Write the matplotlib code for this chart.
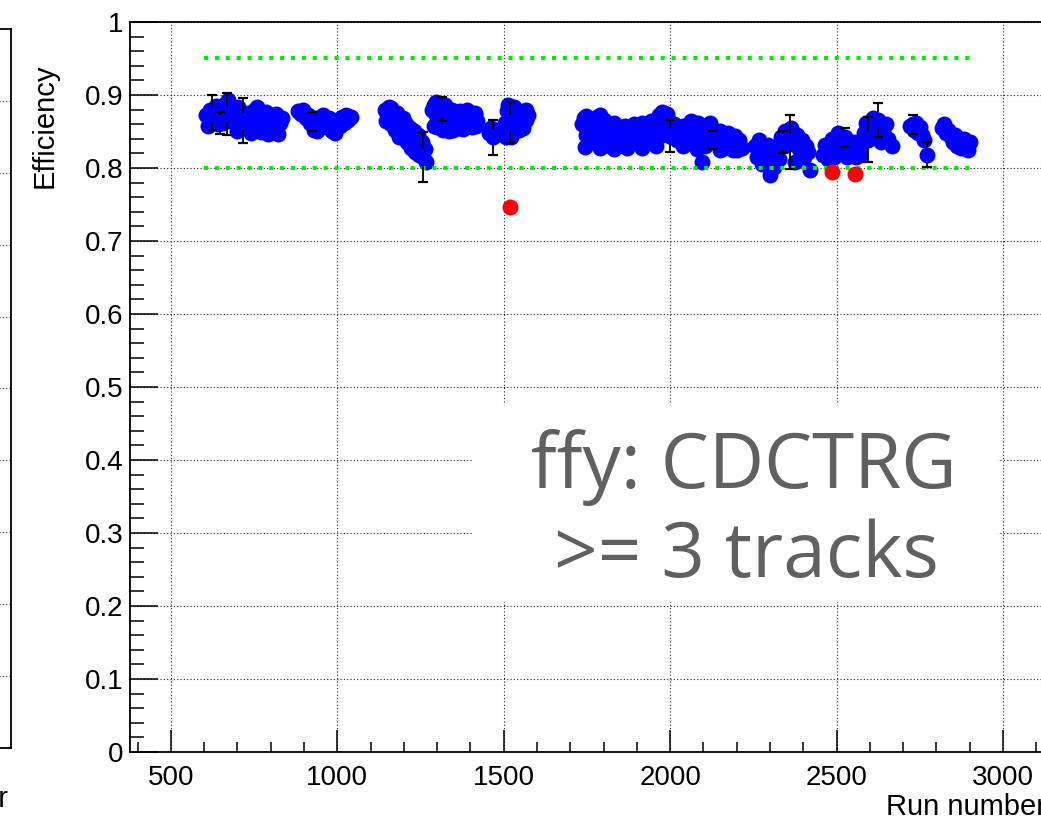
import numpy as np
import matplotlib
matplotlib.use("Agg")
import matplotlib.pyplot as plt
from matplotlib.patches import Rectangle

# ---------------- data ----------------
c1_runs = [605, 612, 618, 623, 628, 634, 640, 647, 652, 657, 663, 668, 672, 678, 684, 690, 697, 703,
           709, 716, 722, 728, 735, 741, 748, 754, 760, 766, 772, 778, 785, 791, 797, 803, 810, 816,
           822, 828, 834, 700, 742, 792, 620, 760]
c1_eff = [0.872, 0.858, 0.880, 0.876, 0.865, 0.885, 0.860, 0.862, 0.878, 0.862, 0.888, 0.874, 0.893,
          0.866, 0.880, 0.871, 0.859, 0.884, 0.868, 0.865, 0.876, 0.855, 0.870, 0.861, 0.878, 0.852,
          0.866, 0.872, 0.849, 0.858, 0.877, 0.865, 0.850, 0.868, 0.860, 0.874, 0.847, 0.862, 0.869,
          0.851, 0.848, 0.846, 0.862, 0.884]

c2_runs = [882, 890, 898, 905, 912, 918, 924, 930, 937, 944, 950, 957, 963, 970, 976, 983, 989, 996,
           1002, 1008, 1014, 1020, 1027, 1033, 1040, 940, 992]
c2_eff = [0.878, 0.874, 0.880, 0.869, 0.872, 0.862, 0.864, 0.852, 0.868, 0.858, 0.866, 0.872, 0.861,
          0.856, 0.868, 0.850, 0.862, 0.855, 0.866, 0.858, 0.870, 0.862, 0.873, 0.866, 0.870, 0.850,
          0.848]

c3_runs = [1143, 1150, 1156, 1162, 1168, 1175, 1181, 1187, 1193, 1200, 1206, 1212, 1218, 1224, 1230,
           1236, 1242, 1248, 1254, 1258, 1262, 1145, 1160, 1172, 1185, 1198, 1210, 1222, 1234, 1245,
           1265, 1160, 1178, 1196]
c3_eff = [0.880, 0.874, 0.883, 0.868, 0.876, 0.862, 0.870, 0.856, 0.864, 0.852, 0.860, 0.846, 0.855,
          0.842, 0.850, 0.836, 0.845, 0.828, 0.836, 0.815, 0.826, 0.864, 0.860, 0.852, 0.843, 0.842,
          0.836, 0.828, 0.822, 0.818, 0.808, 0.882, 0.876, 0.868]

c4_runs = [1284, 1290, 1296, 1302, 1308, 1314, 1320, 1326, 1332, 1338, 1345, 1351, 1357, 1363, 1370,
           1376, 1382, 1388, 1395, 1401, 1407, 1413, 1420, 1291, 1300, 1318, 1335, 1348, 1362, 1378,
           1392, 1405, 1416, 1297, 1323, 1346, 1368, 1390, 1415]
c4_eff = [0.880, 0.886, 0.872, 0.884, 0.868, 0.881, 0.875, 0.862, 0.870, 0.858, 0.866, 0.872, 0.860,
          0.868, 0.875, 0.866, 0.872, 0.863, 0.870, 0.876, 0.867, 0.872, 0.864, 0.858, 0.856, 0.852,
          0.850, 0.852, 0.855, 0.853, 0.858, 0.856, 0.858, 0.890, 0.886, 0.880, 0.878, 0.879, 0.875]

c5_runs = [1455, 1462, 1468, 1474, 1480]
c5_eff = [0.848, 0.855, 0.842, 0.852, 0.846]

c6_runs = [1505, 1510, 1515, 1519, 1524, 1528, 1535, 1541, 1547, 1553, 1560, 1566, 1572, 1508, 1522,
           1532, 1545, 1557, 1512, 1530, 1568]
c6_eff = [0.862, 0.878, 0.848, 0.862, 0.884, 0.855, 0.870, 0.876, 0.862, 0.870, 0.878, 0.866, 0.872,
          0.843, 0.842, 0.850, 0.852, 0.855, 0.886, 0.884, 0.880]

c7_runs = [1735, 1742, 1748, 1755, 1761, 1768, 1774, 1780, 1787, 1793, 1800, 1806, 1812, 1819, 1825,
           1832, 1838, 1845, 1851, 1858, 1864, 1871, 1877, 1884, 1890, 1897, 1903, 1910, 1916, 1923,
           1929, 1936, 1942, 1949, 1955, 1962, 1968, 1975, 1981, 1988, 1994, 2001, 2007, 2013, 2020,
           2026, 2033, 2039, 2046, 2052, 2059, 2065, 2072, 2078, 2085, 2091, 2096, 2098, 2104, 2110,
           2117, 2123, 2130, 2136, 2143, 2149, 2156, 2162, 2169, 2175, 2182, 2188, 2195, 2201, 2208,
           1745, 1790, 1830, 1870, 1915, 1958, 2040, 2080, 2150, 2200, 2215,
           1746, 1790, 1975, 1990, 2062, 2120]
c7_eff = [0.860, 0.868, 0.845, 0.856, 0.838, 0.862, 0.848, 0.870, 0.832, 0.855, 0.866, 0.842, 0.858,
          0.830, 0.850, 0.862, 0.840, 0.855, 0.832, 0.846, 0.858, 0.836, 0.850, 0.842, 0.860, 0.834,
          0.852, 0.845, 0.862, 0.838, 0.855, 0.848, 0.864, 0.840, 0.858, 0.850, 0.872, 0.845, 0.876,
          0.858, 0.866, 0.844, 0.842, 0.860, 0.838, 0.852, 0.846, 0.858, 0.836, 0.850, 0.843, 0.856,
          0.834, 0.848, 0.862, 0.840, 0.808, 0.852, 0.830, 0.846, 0.838, 0.856, 0.838, 0.844, 0.835,
          0.850, 0.826, 0.842, 0.832, 0.848, 0.838, 0.824, 0.844, 0.830, 0.838,
          0.829, 0.827, 0.826, 0.827, 0.828, 0.830, 0.830, 0.826, 0.824, 0.824, 0.828,
          0.871, 0.872, 0.877, 0.874, 0.864, 0.862]

c8_runs = [2255, 2262, 2268, 2275, 2281, 2288, 2294, 2300, 2306, 2313, 2319, 2326, 2332, 2338, 2345,
           2351, 2360, 2363, 2369, 2376, 2382, 2388, 2395, 2401, 2408, 2414, 2420]
c8_eff = [0.830, 0.815, 0.838, 0.805, 0.825, 0.812, 0.832, 0.790, 0.818, 0.802, 0.828, 0.812, 0.842,
          0.835, 0.850, 0.832, 0.835, 0.855, 0.836, 0.808, 0.845, 0.826, 0.838, 0.815, 0.830, 0.822,
          0.797]

c9_runs = [2460, 2466, 2473, 2479, 2486, 2492, 2499, 2505, 2512, 2518, 2525, 2531, 2538, 2544, 2551,
           2557, 2564, 2570, 2577, 2583, 2590, 2594, 2603, 2609, 2616, 2624, 2628, 2635, 2641, 2648,
           2654, 2667]
c9_eff = [0.818, 0.832, 0.812, 0.826, 0.840, 0.815, 0.830, 0.848, 0.822, 0.836, 0.842, 0.815, 0.828,
          0.820, 0.836, 0.815, 0.828, 0.818, 0.834, 0.848, 0.862, 0.839, 0.855, 0.868, 0.845, 0.866,
          0.856, 0.835, 0.850, 0.860, 0.840, 0.830]

c10_runs = [2722, 2730, 2733, 2739, 2745, 2751, 2758, 2764, 2772]
c10_eff = [0.858, 0.860, 0.852, 0.862, 0.848, 0.856, 0.845, 0.838, 0.818]

c11_runs = [2817, 2823, 2830, 2836, 2843, 2849, 2856, 2862, 2869, 2875, 2882, 2888, 2895, 2900]
c11_eff = [0.855, 0.860, 0.848, 0.852, 0.842, 0.836, 0.845, 0.830, 0.838, 0.828, 0.840, 0.832, 0.825,
           0.836]

# points with visible error bars (run, half-size)
err_runs = [623, 647, 668, 716, 924, 1258, 1314, 1468, 1519, 2001, 2130, 2338, 2360, 2525, 2594,
            2624, 2730, 2772]
err_sizes = [0.024, 0.015, 0.029, 0.031, 0.013, 0.034, 0.016, 0.024, 0.028, 0.022, 0.012, 0.015,
             0.037, 0.013, 0.031, 0.023, 0.013, 0.017]

# runs below the lower threshold (red)
red_runs = [1519, 2486, 2555]
red_eff = [0.747, 0.795, 0.792]

# thresholds (green dotted)
thr_runs = [600, 2900]
thr_levels = [0.95, 0.80]

x_ticks = [500, 1000, 1500, 2000, 2500, 3000]
y_ticks = [0, 0.1, 0.2, 0.3, 0.4, 0.5, 0.6, 0.7, 0.8, 0.9, 1]
y_ticklabels = ["0", "0.1", "0.2", "0.3", "0.4", "0.5", "0.6", "0.7", "0.8", "0.9", "1"]

# ---------------- figure ----------------
W, H = 1041, 822
DPI = 100
fig = plt.figure(figsize=(W / DPI, H / DPI), dpi=DPI)
FONT = "Liberation Sans"

def px_rect(l, t, r, b):
    return [l / W, (H - b) / H, (r - l) / W, (b - t) / H]

# left neighbouring (cropped) panel
axl = fig.add_axes(px_rect(-300, 29, 11, 748))
axl.set_xlim(0, 1)
axl.set_ylim(0, 1)
axl.set_yticks(y_ticks[1:-1])
axl.set_xticks([])
axl.tick_params(left=False, labelleft=False)
axl.grid(True, axis="y", linestyle=(0, (1, 2)), color="#222222", lw=0.8)
for s in axl.spines.values():
    s.set_linewidth(1.3)
fig.text(8 / W, 1 - 807 / H, "Run number", ha="right", va="baseline",
         fontsize=21, family=FONT)

# main panel
ax = fig.add_axes(px_rect(130, 22, 1048, 752))
x_left = 377.0
x_right = x_left + (1048 - 130) / 0.3328
ax.set_xlim(x_left, x_right)
ax.set_ylim(0, 1)
for s in ax.spines.values():
    s.set_linewidth(1.3)

ax.set_xticks(x_ticks)
ax.set_xticklabels([str(v) for v in x_ticks])
ax.set_xticks(np.arange(400, 3200, 100), minor=True)
ax.set_yticks(y_ticks)
ax.set_yticklabels(y_ticklabels)
ax.set_yticks(np.arange(0, 1.0001, 0.02), minor=True)
ax.tick_params(axis="x", which="major", direction="in", length=16, width=1.1,
               top=False, pad=9, labelsize=20)
ax.tick_params(axis="x", which="minor", direction="in", length=7.5, width=1.1, top=False)
ax.tick_params(axis="y", which="major", direction="in", length=20, width=1.1,
               right=False, pad=4.5, labelsize=20)
ax.tick_params(axis="y", which="minor", direction="in", length=10, width=1.1, right=False)
for lab in ax.get_xticklabels() + ax.get_yticklabels():
    lab.set_family(FONT)

ax.set_axisbelow(True)
ax.grid(True, which="major", linestyle=(0, (1, 2)), color="#222222", lw=0.8)

# blue points
blue_runs = np.array(c1_runs + c2_runs + c3_runs + c4_runs + c5_runs + c6_runs + c7_runs +
                     c8_runs + c9_runs + c10_runs + c11_runs, dtype=float)
blue_eff = np.array(c1_eff + c2_eff + c3_eff + c4_eff + c5_eff + c6_eff + c7_eff +
                    c8_eff + c9_eff + c10_eff + c11_eff)
MS = 11.5
ax.plot(blue_runs, blue_eff, linestyle="none", marker="o", ms=MS, mfc="#0000ff",
        mec="#0000ff", mew=0, zorder=3)

# green threshold lines
for lvl in thr_levels:
    ax.plot(thr_runs, [lvl, lvl], color="#00ee00", lw=2.9,
            linestyle=(0, (1, 1.7)), dash_capstyle="butt", zorder=4)

# red points
ax.plot(red_runs, red_eff, linestyle="none", marker="o", ms=MS, mfc="#ff0000",
        mec="#ff0000", mew=0, zorder=5)

# error bars (drawn outside of the marker, ROOT style)
ax_h_px = 730
r_data = (MS / 2 / 72 * DPI) / ax_h_px
lookup = {}
for rr, ee in zip(blue_runs.tolist(), blue_eff.tolist()):
    lookup.setdefault(rr, ee)
for run, e in zip(err_runs, err_sizes):
    y = lookup[float(run)]
    if e > r_data:
        ax.vlines([run, run], [y + r_data, y - e], [y + e, y - r_data], colors="black",
                  lw=1.3, zorder=6)
    ax.plot([run, run], [y + e, y - e], linestyle="none", marker="_", ms=7.5,
            mew=1.6, color="black", zorder=6)

# axis titles
fig.text(45 / W, 1 - 63 / H, "Efficiency", rotation=90, ha="center", va="top",
         fontsize=21, family=FONT)
fig.text(1046 / W, 1 - 815 / H, "Run number", ha="right", va="baseline",
         fontsize=21, family=FONT)

# overlaid caption on white background
fig.add_artist(Rectangle((472 / W, (H - 602) / H), (998 - 472) / W, (602 - 405) / H,
                         transform=fig.transFigure, facecolor="white", edgecolor="none",
                         zorder=5))
fig.text(744 / W, 1 - 488 / H, "ffy: CDCTRG", ha="center", va="baseline",
         fontsize=55, family="Open Sans", color="#606060", zorder=6)
fig.text(746 / W, 1 - 577 / H, ">= 3 tracks", ha="center", va="baseline",
         fontsize=55, family="Open Sans", color="#606060", zorder=6)

fig.savefig("out.png", dpi=DPI)
